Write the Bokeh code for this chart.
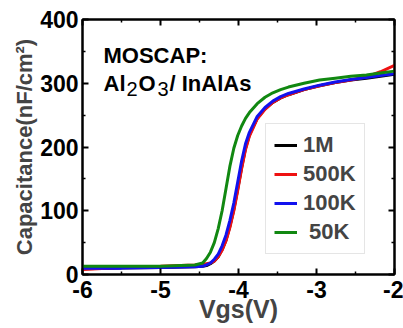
from bokeh.plotting import figure
from bokeh.models import (LinearAxis, Range1d, Legend, LegendItem, Label,
                          FixedTicker)
from bokeh.embed import file_html
from bokeh.resources import INLINE

# ---------------- data ----------------
vgs = [-6.0, -5.5, -5.0, -4.56, -4.46, -4.41, -4.36, -4.31, -4.26, -4.21,
       -4.16, -4.11, -4.06, -4.01, -3.96, -3.91, -3.86, -3.76, -3.66, -3.56,
       -3.46, -3.36, -3.16, -2.96, -2.76, -2.56, -2.36, -2.18, -2.0]

c_1m = [9, 10, 11, 12, 13, 14, 17, 21, 28, 39, 54, 76, 102, 134, 168, 198,
        219, 245, 260, 270, 277, 282, 290, 296, 301, 305, 308, 311, 314]
c_500k = [8, 11, 13, 15, 16, 17, 18, 21, 28, 38, 53, 74, 100, 132, 166, 196,
          217, 244, 259, 270, 277, 282, 290, 296, 301, 305, 310, 318, 328]
c_100k = [10, 10, 11, 12, 13, 15, 18, 24, 32, 45, 62, 85, 112, 145, 178, 205,
          223, 248, 262, 272, 279, 284, 291, 297, 302, 306, 309, 312, 315]
c_50k = [13, 13, 13, 15, 18, 25, 35, 50, 72, 100, 135, 170, 198, 218, 233,
         245, 254, 268, 278, 285, 290, 294, 300, 305, 308, 311, 313, 316, 319]

series_labels = ["1M", "500K", "100K", " 50K"]
series_colors = ["#000000", "#ee1111", "#1111ee", "#118811"]
series_values = [c_1m, c_500k, c_100k, c_50k]

x_ticks = [-6, -5, -4, -3, -2]
x_tick_labels = ["-6", "-5", "-4", "-3", "-2"]
y_ticks = [0, 100, 200, 300, 400]
y_tick_labels = ["0", "100", "200", "300", "400"]

FONT = "Liberation Sans"

p = figure(width=403, height=328, output_backend="svg", toolbar_location=None,
           x_range=Range1d(-6, -2), y_range=Range1d(0, 400),
           min_border_left=82, min_border_right=9, min_border_top=19,
           min_border_bottom=54)
p.background_fill_color = "white"
p.border_fill_color = "white"
p.outline_line_color = "black"
p.outline_line_width = 2
p.xgrid.visible = False
p.ygrid.visible = False


def style_axis(ax, ticks, minor, labels):
    ax.ticker = FixedTicker(ticks=ticks, minor_ticks=minor)
    ax.axis_line_color = "black"
    ax.axis_line_width = 2
    ax.major_tick_in = 6
    ax.major_tick_out = 0
    ax.minor_tick_in = 3
    ax.minor_tick_out = 0
    ax.major_tick_line_width = 2
    ax.minor_tick_line_width = 1.5
    ax.major_label_text_font = FONT
    ax.major_label_text_font_style = "bold"
    ax.major_label_text_color = "black"
    ax.major_label_text_font_size = "23px"
    ax.major_label_overrides = {float(t): l for t, l in zip(ticks, labels)}


x_minor = [-5.5, -4.5, -3.5, -2.5]
y_minor = [50, 150, 250, 350]

xa = p.xaxis[0]
style_axis(xa, x_ticks, x_minor, x_tick_labels)
xa.major_label_standoff = 6
xa.axis_label = "Vgs(V)"
xa.axis_label_text_font = FONT
xa.axis_label_text_font_style = "bold"
xa.axis_label_text_font_size = "25px"
xa.axis_label_standoff = -6

ya = p.yaxis[0]
style_axis(ya, y_ticks, y_minor, y_tick_labels)
ya.major_label_standoff = 4
ya.axis_label = "Capacitance(nF/cm²)"
ya.axis_label_text_font = FONT
ya.axis_label_text_font_style = "bold"
ya.axis_label_text_font_size = "22px"
ya.axis_label_standoff = 0

top = LinearAxis()
style_axis(top, x_ticks, x_minor, [""] * len(x_ticks))
top.major_label_standoff = 0
p.add_layout(top, "above")
right = LinearAxis()
style_axis(right, y_ticks, y_minor, [""] * len(y_ticks))
right.major_label_standoff = 0
p.add_layout(right, "right")

items = []
for lab, col, vals in zip(series_labels, series_colors, series_values):
    r = p.line(vgs, vals, line_color=col, line_width=3)
    items.append(LegendItem(label=lab, renderers=[r]))

legend = Legend(items=items, location=(183, 20))
legend.border_line_color = "#cccccc"
legend.border_line_width = 1
legend.background_fill_color = "white"
legend.label_text_font = FONT
legend.label_text_font_style = "bold"
legend.label_text_font_size = "22px"
legend.glyph_width = 23
legend.glyph_height = 26
legend.label_height = 26
legend.spacing = 3
legend.padding = 8
legend.margin = 0
legend.label_standoff = 6
p.add_layout(legend)

# ---- annotation text ----
def lbl(x, y, t, size="22px", style="bold"):
    p.add_layout(Label(x=x, y=y, x_units="screen", y_units="screen", text=t,
                       text_font=FONT, text_font_style=style,
                       text_baseline="alphabetic",
                       text_font_size=size, text_color="black"))

lbl(21, 219, "MOSCAP:")
lbl(21, 191, "Al")
lbl(44, 186, "2", size="20px", style="normal")
lbl(56, 191, "O")
lbl(75, 186, "3", size="20px", style="normal")
lbl(87, 191, "/ InAlAs")

open("out.html", "w").write(file_html(p, INLINE))
